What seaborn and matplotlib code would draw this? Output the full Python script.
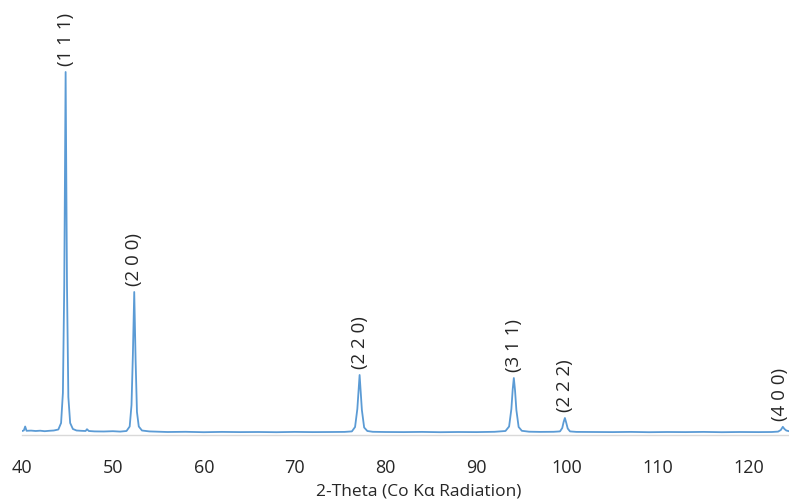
import matplotlib
matplotlib.use("Agg")
import matplotlib.pyplot as plt
import seaborn as sns
import pandas as pd

# ---- data (2-theta in degrees, intensity in counts) ----
two_theta = [
    40.0, 40.2, 40.35, 40.5, 41.0, 41.5, 42.0, 42.5, 43.0, 43.5, 44.0, 44.3, 44.5, 44.65,
    44.8, 44.95, 45.1, 45.3, 45.6, 46.0, 46.5, 47.0, 47.15, 47.35, 48.0, 49.0, 50.0, 50.8,
    51.5, 51.85, 52.05, 52.2, 52.35, 52.5, 52.65, 52.85, 53.2, 54.0, 55.0, 56.0, 58.0, 60.0,
    62.0, 64.0, 66.0, 68.0, 70.0, 72.0, 74.0, 75.5, 76.3, 76.65, 76.9, 77.15, 77.4, 77.65,
    78.0, 78.6, 80.0, 82.0, 84.0, 86.0, 88.0, 90.0, 92.0, 93.2, 93.6, 93.85, 94.0, 94.12,
    94.25, 94.4, 94.65, 95.0, 95.8, 97.0, 98.5, 99.2, 99.45, 99.6, 99.74, 99.88, 100.05,
    100.3, 101.0, 103.0, 105.0, 107.0, 109.0, 111.0, 113.0, 115.0, 117.0, 119.0, 121.0,
    122.5, 123.2, 123.5, 123.72, 123.9, 124.1, 124.4,
]
intensity = [
    40, 45, 85, 42, 44, 40, 43, 38, 42, 45, 55, 120, 420, 1500,
    3630, 1500, 380, 120, 60, 45, 42, 40, 58, 40, 36, 35, 38, 34,
    40, 85, 300, 800, 1430, 750, 230, 85, 45, 36, 33, 30, 32, 28,
    31, 29, 30, 28, 31, 29, 30, 31, 36, 80, 260, 600, 250, 75,
    40, 32, 30, 29, 31, 28, 30, 29, 32, 40, 85, 260, 460, 570,
    450, 250, 80, 42, 33, 31, 32, 36, 70, 130, 170, 125, 65,
    36, 31, 30, 29, 31, 28, 30, 29, 31, 28, 30, 29,
    30, 34, 50, 82, 60, 45, 38,
]

peak_labels = ["(1 1 1)", "(2 0 0)", "(2 2 0)", "(3 1 1)", "(2 2 2)", "(4 0 0)"]
peak_pos = [44.8, 52.35, 77.15, 94.12, 99.74, 123.72]
peak_top = [3630, 1430, 600, 570, 170, 82]

df = pd.DataFrame({"two_theta": two_theta, "intensity": intensity})

W, H = 789, 504
fig = plt.figure(figsize=(W / 100, H / 100), dpi=100)
ax = fig.add_axes([22 / W, 69 / H, (W - 22) / W, 435 / H])

line_color = "#5B9BD5"
sns.lineplot(data=df, x="two_theta", y="intensity", ax=ax, color=line_color,
             linewidth=1.3, estimator=None, sort=False)

ax.set_xlim(40, 124.4)
ax.set_ylim(0, 4350)
ax.set_xticks([40, 50, 60, 70, 80, 90, 100, 110, 120])
ax.set_yticks([])
ax.set_ylabel("")
font = ["Open Sans", "DejaVu Sans"]
ax.set_xlabel("2-Theta (Co Kα Radiation)", fontsize=12.5, family=font, color="#262626")
ax.xaxis.set_label_coords((419 - 22) / (W - 22), -49 / 435)
ax.tick_params(axis="x", length=0, pad=17, labelsize=13, labelcolor="#262626")
for lab in ax.get_xticklabels():
    lab.set_family(font)

for s in ["top", "right", "left"]:
    ax.spines[s].set_visible(False)
ax.spines["bottom"].set_color("#d9d9d9")
ax.spines["bottom"].set_linewidth(1.0)
ax.patch.set_alpha(0)

x_shift = [0, 0, 0, 0, 0, -2]
for lab, x, y, dx in zip(peak_labels, peak_pos, peak_top, x_shift):
    ax.annotate(lab, xy=(x, y), xytext=(dx, 4.5), textcoords="offset points",
                rotation=90, ha="center", va="bottom", fontsize=13.5,
                family=font, color="#262626", annotation_clip=False)

fig.savefig("out.png", dpi=100)
